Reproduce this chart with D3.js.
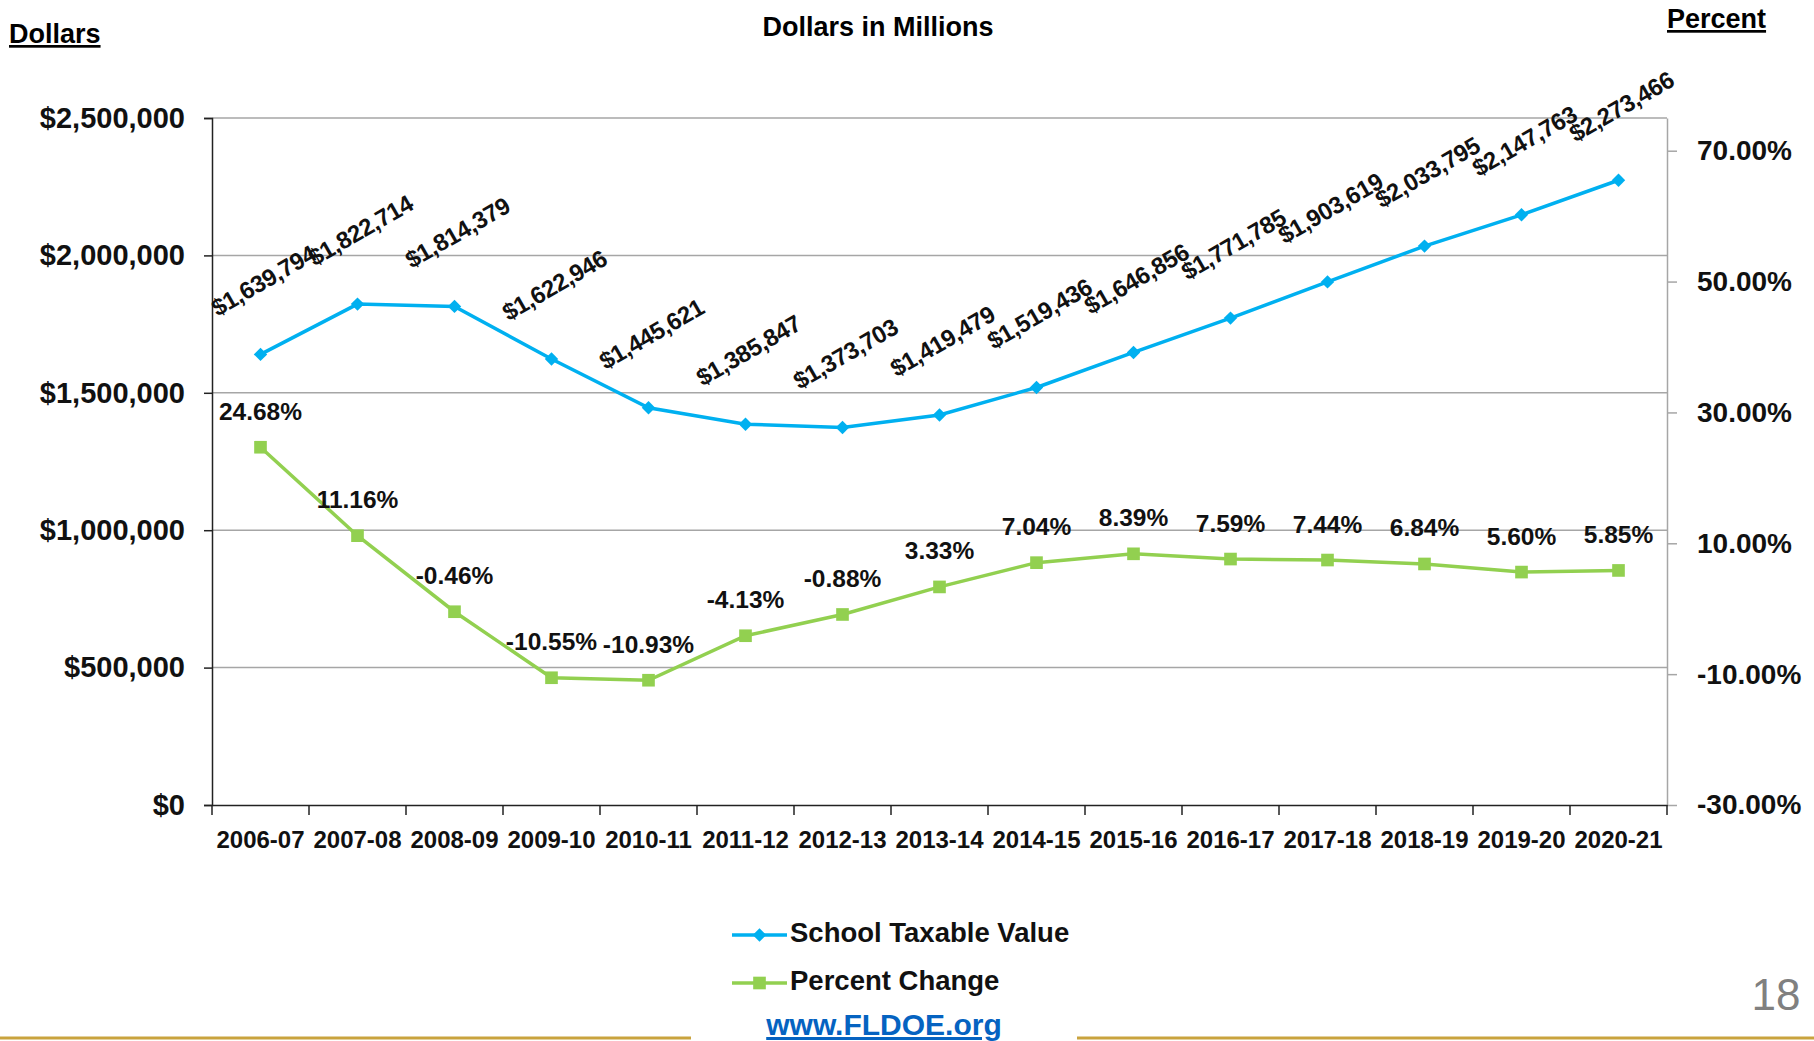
<!DOCTYPE html>
<html>
<head>
<meta charset="utf-8">
<script src="https://cdn.jsdelivr.net/npm/d3@7"></script>
<style>
body { margin: 0; background: #fff; }
svg { display: block; }
</style>
</head>
<body>
<div id="canvas"></div>
<script>
"use strict"
// school years on the x axis
let years = ["2006-07", "2007-08", "2008-09", "2009-10", "2010-11", "2011-12", "2012-13", "2013-14",
    "2014-15", "2015-16", "2016-17", "2017-18", "2018-19", "2019-20", "2020-21"];
// school taxable value, dollars in millions
let taxableValue = [1639794, 1822714, 1814379, 1622946, 1445621, 1385847, 1373703, 1419479,
    1519436, 1646856, 1771785, 1903619, 2033795, 2147763, 2273466];
// percent change from previous year
let percentChange = [24.68, 11.16, -0.46, -10.55, -10.93, -4.13, -0.88, 3.33,
    7.04, 8.39, 7.59, 7.44, 6.84, 5.60, 5.85];
let leftTicks = [0, 500000, 1000000, 1500000, 2000000, 2500000];
let rightTicks = [-30, -10, 10, 30, 50, 70];
let leftDomain = [0, 2500000];
let rightDomain = [-30, 75];

let svgWidth = 1814;
let svgHeight = 1041;
let marginLeft = 212;
let marginRight = 147;
let marginTop = 118;
let marginBottom = 236;

let blue = "#00B0F0";
let green = "#92D050";
let font = "'Liberation Sans', Arial, sans-serif";

let svg = d3.select("#canvas")
    .append("svg")
    .attr("width", svgWidth)
    .attr("height", svgHeight)
    .style("font-family", font);

svg.append("rect")
    .attr("width", svgWidth)
    .attr("height", svgHeight)
    .attr("fill", "white");

let xScale = d3.scaleBand()
    .domain(years)
    .range([marginLeft, svgWidth - marginRight]);

let yLeft = d3.scaleLinear()
    .domain(leftDomain)
    .range([svgHeight - marginBottom, marginTop]);

let yRight = d3.scaleLinear()
    .domain(rightDomain)
    .range([svgHeight - marginBottom, marginTop]);

function xMid(d) {
    return xScale(d) + xScale.bandwidth() / 2;
}

// gridlines
svg.append("g")
    .selectAll("line")
    .data(leftTicks.filter(function(t) { return t > 0; }))
    .join("line")
    .attr("x1", marginLeft)
    .attr("x2", svgWidth - marginRight)
    .attr("y1", function(d) { return yLeft(d); })
    .attr("y2", function(d) { return yLeft(d); })
    .attr("stroke", "#A6A6A6")
    .attr("stroke-width", 1.5);

// left axis
let leftAxis = svg.append("g")
    .attr("transform", "translate(" + marginLeft + ",0)")
    .call(d3.axisLeft(yLeft)
        .tickValues(leftTicks)
        .tickFormat(function(d) { return "$" + d3.format(",")(d); })
        .tickSize(8)
        .tickPadding(19));
leftAxis.select(".domain").attr("stroke", "#222").attr("stroke-width", 1.5);
leftAxis.selectAll(".tick line").attr("stroke", "#222").attr("stroke-width", 1.5);
leftAxis.selectAll("text")
    .attr("font-family", font)
    .attr("font-size", 29)
    .attr("font-weight", "bold")
    .attr("fill", "#111");

// right axis
let rightAxis = svg.append("g")
    .attr("transform", "translate(" + (svgWidth - marginRight) + ",0)")
    .call(d3.axisRight(yRight)
        .tickValues(rightTicks)
        .tickFormat(function(d) { return d.toFixed(2) + "%"; })
        .tickSize(10)
        .tickPadding(20)
        .tickSizeOuter(0));
rightAxis.select(".domain").attr("stroke", "#A6A6A6").attr("stroke-width", 1.5);
rightAxis.selectAll(".tick line").attr("stroke", "#A6A6A6").attr("stroke-width", 1.5);
rightAxis.selectAll("text")
    .attr("font-family", font)
    .attr("font-size", 28)
    .attr("font-weight", "bold")
    .attr("fill", "#111");

// bottom axis: labels centred in each band, ticks on band edges
let bottomY = svgHeight - marginBottom;
let bottomAxis = svg.append("g")
    .attr("transform", "translate(0," + bottomY + ")")
    .call(d3.axisBottom(xScale).tickSize(0).tickPadding(26));
bottomAxis.select(".domain").attr("stroke", "#222").attr("stroke-width", 1.5);
bottomAxis.selectAll("text")
    .attr("font-family", font)
    .attr("font-size", 24)
    .attr("font-weight", "bold")
    .attr("fill", "#111");

let edges = years.map(function(d) { return xScale(d); });
edges.push(xScale.range()[1]);
svg.append("g")
    .selectAll("line")
    .data(edges)
    .join("line")
    .attr("x1", function(d) { return d; })
    .attr("x2", function(d) { return d; })
    .attr("y1", bottomY)
    .attr("y2", bottomY + 10)
    .attr("stroke", "#222")
    .attr("stroke-width", 1.5);

// series lines
let idx = d3.range(years.length);

let blueLine = d3.line()
    .x(function(i) { return xMid(years[i]); })
    .y(function(i) { return yLeft(taxableValue[i]); });

let greenLine = d3.line()
    .x(function(i) { return xMid(years[i]); })
    .y(function(i) { return yRight(percentChange[i]); });

svg.append("path")
    .datum(idx)
    .attr("d", greenLine)
    .attr("fill", "none")
    .attr("stroke", green)
    .attr("stroke-width", 3.5);

svg.append("path")
    .datum(idx)
    .attr("d", blueLine)
    .attr("fill", "none")
    .attr("stroke", blue)
    .attr("stroke-width", 3.5);

let diamond = d3.symbol().type(d3.symbolSquare).size(90);
let square = d3.symbol().type(d3.symbolSquare).size(160);

svg.append("g")
    .selectAll("path")
    .data(idx)
    .join("path")
    .attr("d", square)
    .attr("transform", function(i) {
        return "translate(" + xMid(years[i]) + "," + yRight(percentChange[i]) + ")";
    })
    .attr("fill", green);

svg.append("g")
    .selectAll("path")
    .data(idx)
    .join("path")
    .attr("d", diamond)
    .attr("transform", function(i) {
        return "translate(" + xMid(years[i]) + "," + yLeft(taxableValue[i]) + ") rotate(45)";
    })
    .attr("fill", blue);

// data labels
svg.append("g")
    .selectAll("text")
    .data(idx)
    .join("text")
    .attr("transform", function(i) {
        return "translate(" + (xMid(years[i]) + 4) + "," + (yLeft(taxableValue[i]) - 72) + ") rotate(-30)";
    })
    .attr("text-anchor", "middle")
    .attr("dominant-baseline", "middle")
    .attr("font-size", 24)
    .attr("font-weight", "bold")
    .attr("letter-spacing", -0.4)
    .attr("fill", "#111")
    .text(function(i) { return "$" + d3.format(",")(taxableValue[i]); });

svg.append("g")
    .selectAll("text")
    .data(idx)
    .join("text")
    .attr("x", function(i) { return xMid(years[i]); })
    .attr("y", function(i) { return yRight(percentChange[i]) - 34; })
    .attr("text-anchor", "middle")
    .attr("dominant-baseline", "middle")
    .attr("font-size", 24.5)
    .attr("font-weight", "bold")
    .attr("fill", "#111")
    .text(function(i) { return percentChange[i].toFixed(2) + "%"; });

// titles
svg.append("text")
    .attr("x", 878)
    .attr("y", 36)
    .attr("text-anchor", "middle")
    .attr("font-size", 27)
    .attr("font-weight", "bold")
    .text("Dollars in Millions");

svg.append("text")
    .attr("x", 9)
    .attr("y", 43)
    .attr("font-size", 27)
    .attr("font-weight", "bold")
    .style("text-decoration", "underline")
    .text("Dollars");

svg.append("text")
    .attr("x", 1667)
    .attr("y", 28)
    .attr("font-size", 27)
    .attr("font-weight", "bold")
    .style("text-decoration", "underline")
    .text("Percent");

// legend
let legendItems = [
    {label: "School Taxable Value", color: blue, symbol: diamond, rot: 45},
    {label: "Percent Change", color: green, symbol: square, rot: 0}
];

for (let i = 0; i < legendItems.length; i++) {
    let ly = 935 + i * 48;
    svg.append("line")
        .attr("x1", 732)
        .attr("x2", 787)
        .attr("y1", ly)
        .attr("y2", ly)
        .attr("stroke", legendItems[i].color)
        .attr("stroke-width", 3.5);
    svg.append("path")
        .attr("d", legendItems[i].symbol)
        .attr("transform", "translate(759.5," + ly + ") rotate(" + legendItems[i].rot + ")")
        .attr("fill", legendItems[i].color);
    svg.append("text")
        .attr("x", 790)
        .attr("y", ly)
        .attr("dominant-baseline", "middle")
        .attr("font-size", 27.5)
        .attr("font-weight", "bold")
        .attr("fill", "#111")
        .text(legendItems[i].label);
}

// slide footer
svg.append("line")
    .attr("x1", 0).attr("x2", 691)
    .attr("y1", 1038).attr("y2", 1038)
    .attr("stroke", "#C9A33E")
    .attr("stroke-width", 3);
svg.append("line")
    .attr("x1", 1077).attr("x2", svgWidth)
    .attr("y1", 1038).attr("y2", 1038)
    .attr("stroke", "#C9A33E")
    .attr("stroke-width", 3);

svg.append("text")
    .attr("x", 884)
    .attr("y", 1035)
    .attr("text-anchor", "middle")
    .attr("font-size", 30)
    .attr("font-weight", "bold")
    .attr("fill", "#0563C1")
    .style("text-decoration", "underline")
    .text("www.FLDOE.org");

svg.append("text")
    .attr("x", 1776)
    .attr("y", 1010)
    .attr("text-anchor", "middle")
    .attr("font-family", "'Liberation Sans Narrow', 'Liberation Sans', sans-serif")
    .attr("font-size", 44)
    .attr("fill", "#808080")
    .text("18");
</script>
</body>
</html>
